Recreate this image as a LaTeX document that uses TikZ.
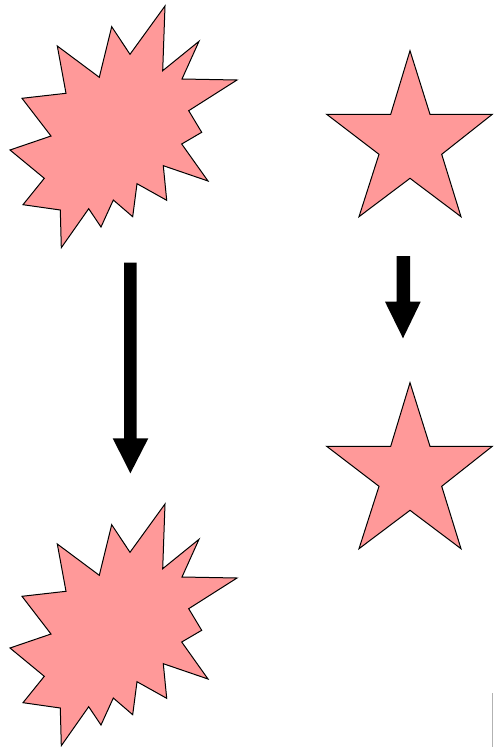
\documentclass[tikz,border=0pt]{standalone}
\usepackage{xcolor}
\definecolor{shapefill}{HTML}{FF9999}
\begin{document}
\begin{tikzpicture}[x=1pt,y=-1pt,
  shapestyle/.style={fill=shapefill,draw=black,line width=1pt,line join=miter},
  arrowbody/.style={fill=black,draw=none}]
\useasboundingbox (0,0) rectangle (493,747);
% explosion shape
\def\explosion{(165,6) -- (162.7,70.7) -- (199,41.3) -- (182,79) -- (237,80) -- (188.7,110.7) -- (201.7,132.3) -- (181.7,144) -- (208,181) -- (163.3,165.7) -- (166.7,200.3) -- (137,183.7) -- (132.7,216.7) -- (113.3,200) -- (101,227) -- (88.7,208.7) -- (61.3,247.7) -- (60.3,210) -- (23,204.7) -- (44.3,178.3) -- (10,150) -- (51,136) -- (22,98.3) -- (66,93.3) -- (57.3,46) -- (99.3,77.3) -- (111.7,26.7) -- (130,54.3) -- cycle}
\def\starshape{(410,50.7) -- (430,114.3) -- (492.3,114.3) -- (441.7,154.3) -- (461,216.7) -- (410,178.3) -- (359,216.7) -- (379,154.3) -- (326.7,114.3) -- (390.7,114.3) -- cycle}
\draw[shapestyle] \explosion;
\draw[shapestyle,yshift=-498pt] \explosion;
\draw[shapestyle] \starshape;
\draw[shapestyle,yshift=-332pt] \starshape;
% arrows
\fill[arrowbody] (124,262.7) -- (136.7,262.7) -- (136.7,438.3) -- (148.3,438.3) -- (130.4,473.3) -- (112.7,438.3) -- (124,438.3) -- cycle;
\fill[arrowbody] (396.7,256) -- (410,256) -- (410,301.7) -- (420.7,301.7) -- (403,338.3) -- (385,301.7) -- (396.7,301.7) -- cycle;
% faint edge line
\draw[black!30,line width=1pt] (492.3,693) -- (492.3,747);
\end{tikzpicture}
\end{document}
